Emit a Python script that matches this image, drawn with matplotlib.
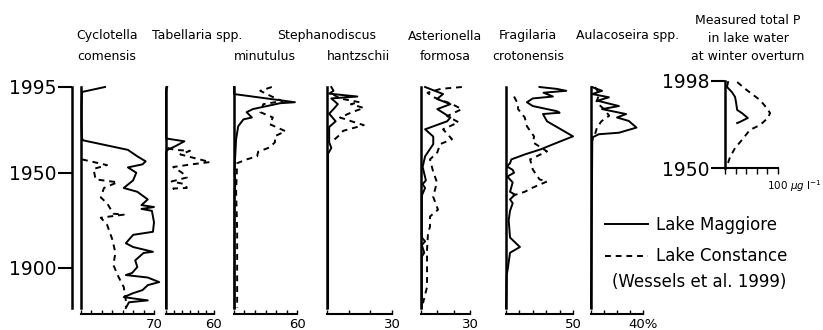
import matplotlib
matplotlib.use('Agg')
import matplotlib.pyplot as plt
from matplotlib.lines import Line2D

plt.rcParams['font.family'] = 'DejaVu Sans'

# ---- data: core depth converted to year, diatom % (Maggiore solid, Constance dashed)
cyc_mag_yr = [1995, 1992.4, 1985, 1975, 1968, 1967, 1965.5, 1962, 1958.6, 1956, 1954.4, 1952.8, 1950,
              1946, 1942, 1940, 1936, 1933, 1932, 1931, 1930, 1924, 1919, 1917.4, 1913, 1911,
              1908.5, 1907.9, 1904, 1900.5, 1897.4, 1896.3, 1895, 1892.6, 1891, 1888.4, 1886.8,
              1884.7, 1883, 1882, 1879]
cyc_mag = [23, 1, 0.5, 0.5, 1, 2, 15, 45, 54, 62, 59, 45, 53, 50, 41, 54, 64, 58, 70, 58, 68, 70,
           69, 50, 43, 50, 69, 60, 52, 54, 49, 43, 64, 75, 64, 59, 50, 41, 64, 46, 43]
cyc_con_yr = [1957, 1956, 1954, 1952, 1946.5, 1945, 1942, 1937, 1934, 1928.5, 1928, 1926.4, 1922.7,
              1915, 1908, 1901.6, 1895.3, 1890, 1883, 1879.5]
cyc_con = [1, 9, 25, 12, 14, 35, 22, 19, 25, 31, 41, 19, 25, 30, 33, 31, 36, 41, 43, 43]

tab_mag_yr = [1995, 1994, 1992, 1968, 1966.5, 1964, 1962, 1961, 1879]
tab_mag = [1.5, 0.5, 0, 0, 23, 12, 2, 0, 0]
tab_con_yr = [1963, 1962, 1961.5, 1959.6, 1957, 1955.6, 1954.4, 1953, 1950, 1947.5, 1945.4, 1944,
              1942, 1941.7, 1941]
tab_con = [2, 11, 30, 18, 42, 55, 32, 9, 20, 26, 7, 24, 26, 9, 15]

smin_mag_yr = [1995, 1991.3, 1987, 1986.5, 1983.4, 1981.8, 1979, 1978, 1974.4, 1967.6, 1957, 1950,
               1945, 1940, 1879]
smin_mag = [0, 0, 58, 44, 18, 12, 17, 9, 4, 2, 1, 0.5, 1.5, 0.5, 0.5]
smin_con_yr = [1995, 1993, 1990, 1987.6, 1986, 1981.8, 1979, 1975.5, 1971.8, 1969.2, 1966, 1963.3,
               1961, 1958.6, 1957, 1955, 1940, 1920, 1900, 1879]
smin_con = [36, 25, 36, 46, 28, 25, 37, 34, 49, 39, 39, 34, 23, 22, 12, 3, 2, 3, 3, 3]

shan_mag_yr = [1995, 1993, 1991.5, 1990, 1989, 1986, 1983.4, 1981, 1977, 1974, 1966, 1963, 1960, 1879]
shan_mag = [2, 3, 1, 14, 2, 5, 3, 1, 4, 1, 1, 2, 0.5, 0.5]
shan_con_yr = [1991, 1989, 1987, 1986, 1984, 1982, 1979, 1976, 1975, 1972, 1969, 1967]
shan_con = [3, 6, 15, 11, 17, 12, 6, 14, 17, 7.5, 5, 3]

ast_mag_yr = [1995, 1991.3, 1988.7, 1986, 1983.4, 1979, 1977, 1972.8, 1969, 1965, 1958.6, 1953,
              1946, 1944, 1942, 1938, 1916, 1914, 1912, 1908, 1906, 1879]
ast_mag = [2.5, 13.5, 9.8, 18, 10, 18, 16, 2.5, 7.5, 7.5, 2.5, 1, 3, 1, 2.5, 0.5, 0.5, 2.5, 0.5,
           2, 0.5, 0.5]
ast_con_yr = [1995, 1994, 1992, 1989.7, 1986, 1983.4, 1979.7, 1976.5, 1972.8, 1967.6, 1965, 1960.7,
              1957, 1950.7, 1944.9, 1937.5, 1930.6, 1927, 1921.6, 1918.5, 1909.5, 1904, 1890, 1881.5]
ast_con = [25, 12, 4, 7.5, 19, 25, 16, 23, 13.5, 19, 11.7, 10, 5.5, 7.4, 9.8, 7.4, 10.4, 5.5, 5.5,
           4.3, 3.7, 3.7, 3.7, 1.2]

fra_mag_yr = [1995, 1994, 1993, 1992, 1990, 1989, 1987, 1985, 1982.3, 1981.5, 1980.8, 1977, 1969.1,
              1964.9, 1962.3, 1959.6, 1957, 1955, 1953.3, 1951.5, 1950, 1948, 1944.9, 1940, 1938.5,
              1936, 1934, 1930, 1925, 1916, 1911, 1908, 1900.5, 1896, 1879]
fra_mag = [25, 38, 45, 28, 35, 20, 15.6, 20, 38, 40, 27.6, 30.6, 50, 35, 26, 14, 4, 3, 0.7, 5, 6,
           1, 5, 3, 6.7, 3, 5, 3, 2, 3, 10.4, 3, 1.5, 0.5, 0]
fra_con_yr = [1990, 1986, 1983.4, 1979, 1974.4, 1969, 1966, 1961.2, 1957, 1951.7, 1946.5, 1945.4,
              1942.2, 1940, 1938]
fra_con = [6, 9, 9, 14, 15.6, 21, 20, 30.6, 18, 20, 25, 30.6, 20, 14, 5]

aul_mag_yr = [1995, 1993, 1991.3, 1989.6, 1987.8, 1985, 1983.4, 1980.8, 1979, 1977.2, 1973.7, 1971,
              1970.2, 1968.5, 1879]
aul_mag = [0.7, 8.5, 1, 13.8, 5, 21.5, 8.5, 27, 20, 29, 35, 21.5, 6, 1, 0]
aul_con_yr = [1995, 1993, 1990.4, 1987, 1983.4, 1979.9, 1977, 1973.7, 1970, 1967]
aul_con = [3, 5, 6, 4, 10, 14, 8, 4.6, 3, 1]

# total P (ug/l) at winter overturn
tp_mag_yr = [1997.4, 1994.7, 1991.9, 1989.2, 1985.9, 1982, 1980.3, 1977.6, 1975.4, 1974.8]
tp_mag = [5.7, 3.8, 13, 19, 21, 23, 32, 43, 28, 23]
tp_con_yr = [1997.4, 1993, 1987.5, 1983, 1980.3, 1977.6, 1973.7, 1971, 1965.5, 1961, 1956, 1952.8]
tp_con = [23, 41, 66, 79, 85, 81, 66, 47, 32, 19, 9.4, 5.7]

year_ticks = [1900, 1950, 1995]
scale_max = [70, 60, 60, 30, 30, 50, 40]
scale_labels = ['70', '60', '60', '30', '30', '50', '40%']

series = [(cyc_mag_yr, cyc_mag, cyc_con_yr, cyc_con),
          (tab_mag_yr, tab_mag, tab_con_yr, tab_con),
          (smin_mag_yr, smin_mag, smin_con_yr, smin_con),
          (shan_mag_yr, shan_mag, shan_con_yr, shan_con),
          (ast_mag_yr, ast_mag, ast_con_yr, ast_con),
          (fra_mag_yr, fra_mag, fra_con_yr, fra_con),
          (aul_mag_yr, aul_mag, aul_con_yr, aul_con)]

# ---- layout (pixels of the 823x330 image)
W, H = 823, 330
TOP, BOT = 87, 308
panel_x = [(81, 154), (166, 214), (234, 297), (327, 392), (421, 470), (506, 573), (591, 643)]
LW = 1.4
DASH = (0, (3, 2.5))


def add_px(x0, x1, ytop, ybot):
    return fig.add_axes([x0 / W, 1 - ybot / H, (x1 - x0) / W, (ybot - ytop) / H])


fig = plt.figure(figsize=(W / 100, H / 100), dpi=100)

# year axis
yax = add_px(72, 73, TOP, BOT)
yax.set_ylim(1879, 1995)
yax.set_xticks([])
for s in ['top', 'right', 'bottom']:
    yax.spines[s].set_visible(False)
yax.spines['left'].set_linewidth(1.8)
yax.set_yticks(year_ticks)
yax.tick_params(axis='y', length=10, width=1.5, pad=1, labelsize=13.5)
yax.patch.set_visible(False)

for (x0, x1), xmax, lab, (my, mv, cy, cv) in zip(panel_x, scale_max, scale_labels, series):
    ax = add_px(x0, x1, TOP, BOT)
    ax.patch.set_visible(False)
    ax.set_xlim(0, xmax)
    ax.set_ylim(1879, 1995)
    ax.plot(mv, my, color='black', lw=LW, clip_on=False)
    ax.plot(cv, cy, color='black', lw=LW, ls=DASH, clip_on=False)
    for s in ['top', 'right']:
        ax.spines[s].set_visible(False)
    ax.spines['left'].set_linewidth(1.8)
    ax.spines['bottom'].set_position(('outward', 4))
    ax.spines['bottom'].set_linewidth(1.5)
    ax.set_yticks([])
    ticks = list(range(0, xmax + 1, 10))
    ax.set_xticks(ticks)
    ax.set_xticklabels([''] * (len(ticks) - 1) + [lab])
    ax.tick_params(axis='x', direction='in', length=3, width=1, pad=3, labelsize=9.5)

# total P inset
pax = add_px(725, 778, 81, 168)
pax.patch.set_visible(False)
pax.set_xlim(0, 100)
pax.set_ylim(1950, 1998)
pax.plot(tp_mag, tp_mag_yr, color='black', lw=LW, clip_on=False)
pax.plot(tp_con, tp_con_yr, color='black', lw=LW, ls=DASH, clip_on=False)
for s in ['top', 'right']:
    pax.spines[s].set_visible(False)
pax.spines['left'].set_linewidth(1.8)
pax.spines['bottom'].set_linewidth(1.5)
pax.set_yticks([1950, 1998])
pax.tick_params(axis='y', length=10, width=1.5, pad=1, labelsize=13.5)
pax.set_xticks(range(0, 101, 20))
pax.set_xticklabels([])
pax.tick_params(axis='x', direction='out', length=4, width=1)
pax.text(0.8, -0.12, r'100 $\mu g$ l$^{-1}$', transform=pax.transAxes, fontsize=7.5,
         ha='left', va='top')

# panel titles
title_lines = [(107, 36, 'Cyclotella'), (107, 56, 'comensis'),
               (197, 36, 'Tabellaria spp.'),
               (327, 36, 'Stephanodiscus'), (265, 56, 'minutulus'), (358, 56, 'hantzschii'),
               (445, 36, 'Asterionella'), (445, 56, 'formosa'),
               (528, 36, 'Fragilaria'), (528, 56, 'crotonensis'),
               (628, 36, 'Aulacoseira spp.'),
               (748, 21, 'Measured total P'), (748, 38, 'in lake water'),
               (748, 57, 'at winter overturn')]
for x, y, t in title_lines:
    fig.text(x / W, 1 - y / H, t, ha='center', va='center', fontsize=9)

handles = [Line2D([], [], color='black', lw=LW),
           Line2D([], [], color='black', lw=LW, ls=DASH)]
fig.legend(handles, ['Lake Maggiore', 'Lake Constance'], loc='upper left',
           bbox_to_anchor=(605 / W, 1 - 216 / H), frameon=False, fontsize=12,
           handlelength=2.6, handletextpad=0.45, labelspacing=0.8, borderpad=0,
           borderaxespad=0)
fig.text(699 / W, 1 - 282 / H, '(Wessels et al. 1999)', ha='center', va='center', fontsize=12)

fig.savefig('out.png', dpi=100)
